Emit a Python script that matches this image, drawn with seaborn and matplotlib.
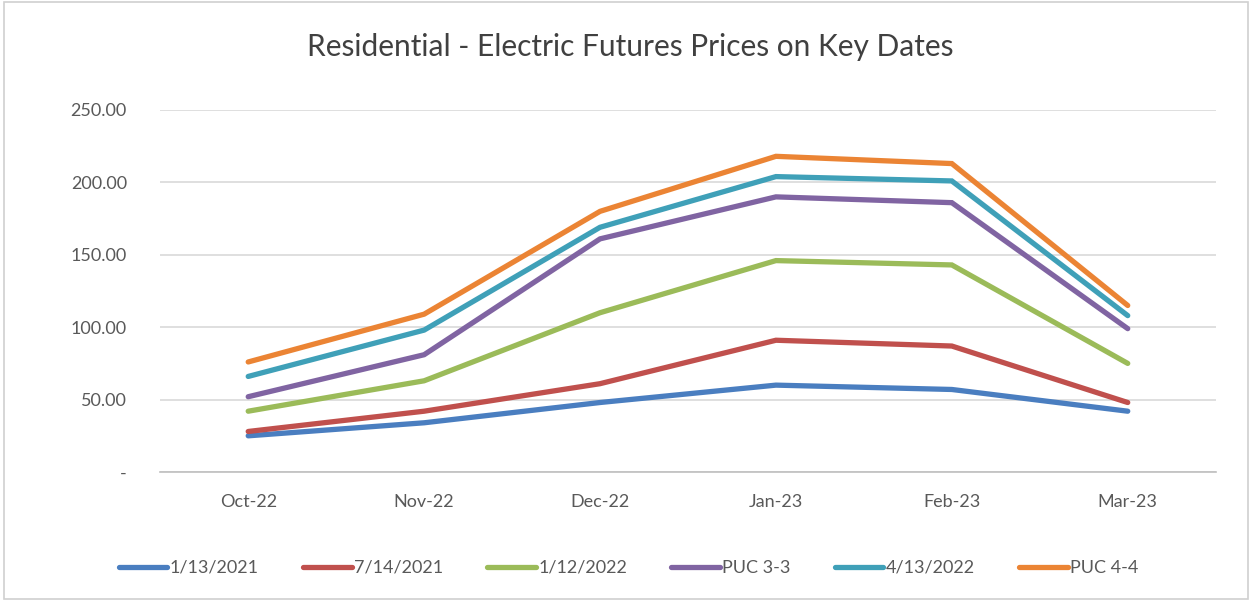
import pandas as pd
import numpy as np
import matplotlib.pyplot as plt
import matplotlib.ticker as mticker
from matplotlib.patches import Rectangle
import seaborn as sns

# Values
months = ['Oct-22', 'Nov-22', 'Dec-22', 'Jan-23', 'Feb-23', 'Mar-23']
s_0113_2021 = [25, 34, 48, 60, 57, 42]
s_0714_2021 = [28, 42, 61, 91, 87, 48]
s_0112_2022 = [42, 63, 110, 146, 143, 75]
s_puc_33 = [52, 81, 161, 190, 186, 99]
s_0413_2022 = [66, 98, 169, 204, 201, 108]
s_puc_44 = [76, 109, 180, 218, 213, 115]

series_names = ['1/13/2021', '7/14/2021', '1/12/2022', 'PUC 3-3', '4/13/2022', 'PUC 4-4']
series_vals = [s_0113_2021, s_0714_2021, s_0112_2022, s_puc_33, s_0413_2022, s_puc_44]
colors = ['#4A7EC0', '#C0504D', '#9BBB59', '#8064A2', '#3FA0B8', '#EB8434']

rows = []
for name, vals in zip(series_names, series_vals):
    for m, v in zip(months, vals):
        rows.append({'Month': m, 'Price': v, 'Series': name})
df = pd.DataFrame(rows)

sns.set_theme(style="white")
plt.rcParams['font.family'] = ['Lato', 'DejaVu Sans']
txt = '#595959'

fig = plt.figure(figsize=(12.52, 6.01), dpi=100)
ax = fig.add_axes([0.128, 0.2146, 0.843, 0.6024])

sns.lineplot(data=df, x='Month', y='Price', hue='Series', hue_order=series_names,
             palette=colors, linewidth=3.8, sort=False, ax=ax, legend=True)
for ln in ax.get_lines():
    ln.set_solid_capstyle('round')
    ln.set_solid_joinstyle('miter')

ax.set_ylim(0, 250)
ax.set_xlim(-0.5, 5.5)
ax.set_yticks([0, 50, 100, 150, 200, 250])
ax.yaxis.set_major_formatter(mticker.FuncFormatter(lambda v, p: '-' if v == 0 else f'{v:.2f}'))
ax.yaxis.grid(True, color='#d9d9d9', linewidth=1.2)
ax.set_axisbelow(True)
ax.set_xticks(range(len(months)))
ax.set_xticklabels(months)
ax.set_xticks(np.arange(-0.5, 6, 1), minor=True)
ax.tick_params(axis='x', which='major', length=0, pad=16, labelsize=13, labelcolor=txt)
ax.tick_params(axis='x', which='minor', length=6, color='#bfbfbf', width=1.2, direction='out')
ax.tick_params(axis='y', length=0, pad=24, labelsize=13, labelcolor=txt)
ax.set_xlabel('')
ax.set_ylabel('')
for side in ['top', 'right', 'left']:
    ax.spines[side].set_visible(False)
ax.spines['bottom'].set_color('#bfbfbf')
ax.spines['bottom'].set_linewidth(1.2)

fig.suptitle('Residential - Electric Futures Prices on Key Dates', fontsize=21.5,
             color='#404040', x=0.503, y=0.922, va='center')

handles, labels = ax.get_legend_handles_labels()
ax.legend_.remove()
fig.legend(handles, labels, loc='center', bbox_to_anchor=(0.502, 0.055), ncol=6,
           frameon=False, fontsize=13, handlelength=2.7, handletextpad=0.12,
           columnspacing=2.45, labelcolor=txt)

fig.patches.append(Rectangle((0.003, 0.004), 0.994, 0.992, transform=fig.transFigure,
                             fill=False, edgecolor='#d0d0d0', linewidth=1.2))

plt.savefig('out.png', dpi=100)
plt.close()
